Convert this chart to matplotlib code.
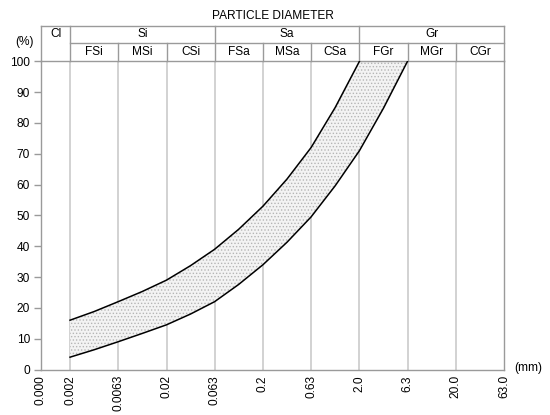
import matplotlib
matplotlib.use('Agg')
import matplotlib.pyplot as plt
import matplotlib.transforms as mtransforms
import numpy as np

plt.rcParams['font.family'] = ['Liberation Sans', 'DejaVu Sans']
plt.rcParams['hatch.linewidth'] = 0.6

# ── Données ───────────────────────────────────────────────
tick_sizes = [0.001, 0.002, 0.0063, 0.02, 0.063, 0.2, 0.63, 2.0, 6.3, 20.0, 63.0]
tick_labels = ['0.000', '0.002', '0.0063', '0.02', '0.063', '0.2',
               '0.63', '2.0', '6.3', '20.0', '63.0']

main_groups = [('Cl', 0.001, 0.002), ('Si', 0.002, 0.063),
               ('Sa', 0.063, 2.0), ('Gr', 2.0, 63.0)]
sub_groups = ['FSi', 'MSi', 'CSi', 'FSa', 'MSa', 'CSa', 'FGr', 'MGr', 'CGr']

# fuseau : courbe basse (fine) et courbe haute
size_low = [0.002, 0.00355, 0.0063, 0.0112, 0.02, 0.0355, 0.063, 0.112,
            0.2, 0.355, 0.63, 1.12, 2.0, 3.55, 6.3]
pct_low = [4, 6.4, 9, 11.7, 14.5, 18, 22, 27.6, 34, 41.3, 49.5, 59.6,
           71, 84.8, 100]

size_up = [0.002, 0.00355, 0.0063, 0.0112, 0.02, 0.0355, 0.063, 0.112,
           0.2, 0.355, 0.63, 1.12, 2.0]
pct_up = [16, 18.8, 22, 25.3, 29, 33.7, 39, 45.5, 53, 61.8, 72, 85, 100]

# ── Figure ────────────────────────────────────────────────
W, H = 550, 415
FS = 8.6
fig = plt.figure(figsize=(W / 100, H / 100), dpi=100)
x0, x1, y_bot, y_top = 41, 504, 369.5, 61.3
ax = fig.add_axes([x0 / W, 1 - y_bot / H, (x1 - x0) / W, (y_bot - y_top) / H])

ax.set_xscale('log')
ax.set_xlim(tick_sizes[0], tick_sizes[-1])
ax.set_ylim(0, 100)
ax.minorticks_off()
ax.set_xticks(tick_sizes)
ax.set_xticklabels(tick_labels, rotation=90)
ax.set_yticks(range(0, 101, 10))

grid_c = '#d2d2d2'
edge_c = '#9a9a9a'
for s in tick_sizes[1:-1]:
    ax.axvline(s, color=grid_c, linewidth=1.4, zorder=1)

for sp in ax.spines.values():
    sp.set_color(edge_c)
    sp.set_linewidth(1.0)

ax.tick_params(axis='y', direction='out', length=5, width=1, color=edge_c,
               labelsize=FS, pad=3)
ax.tick_params(axis='x', length=0, labelsize=FS, pad=4)

# zone hachurée entre les deux courbes
poly_x = list(size_low) + list(size_up[::-1])
poly_y = list(pct_low) + list(pct_up[::-1])
ax.fill(poly_x, poly_y, facecolor='#f3f3f3', edgecolor='#b5b5b5',
        hatch='.....', linewidth=0, zorder=2)
ax.plot(size_low, pct_low, color='black', linewidth=1.1, zorder=3)
ax.plot(size_up, pct_up, color='black', linewidth=1.1, zorder=3)

# ── Tableau de classification ─────────────────────────────
trans = mtransforms.blended_transform_factory(ax.transData, ax.transAxes)
h2 = 18.3 / (y_bot - y_top)
h1 = 17.3 / (y_bot - y_top)
y_mid = 1 + h2
y_hi = 1 + h2 + h1
kw = dict(transform=trans, color=edge_c, linewidth=1.0, clip_on=False)
ax.plot([tick_sizes[0], tick_sizes[-1]], [y_hi, y_hi], **kw)
ax.plot([tick_sizes[1], tick_sizes[-1]], [y_mid, y_mid], **kw)
for s in tick_sizes:
    top = y_hi if s in (0.001, 0.002, 0.063, 2.0, 63.0) else y_mid
    ax.plot([s, s], [1, top], **kw)

for name, a, b in main_groups:
    ax.text(np.sqrt(a * b), y_mid + h1 / 2, name, transform=trans,
            ha='center', va='center', fontsize=FS)
for i, name in enumerate(sub_groups):
    a, b = tick_sizes[i + 1], tick_sizes[i + 2]
    ax.text(np.sqrt(a * b), 1 + h2 / 2, name, transform=trans,
            ha='center', va='center', fontsize=FS)

fig.text((x0 + x1) / 2 / W, 1 - 16 / H, 'PARTICLE DIAMETER',
         ha='center', va='center', fontsize=FS)
fig.text(25 / W, 1 - 42 / H, '(%)', ha='center', va='center', fontsize=FS)
fig.text(528 / W, 1 - 368 / H, '(mm)', ha='center', va='center', fontsize=FS)

plt.savefig('out.png', dpi=100)
plt.close()
